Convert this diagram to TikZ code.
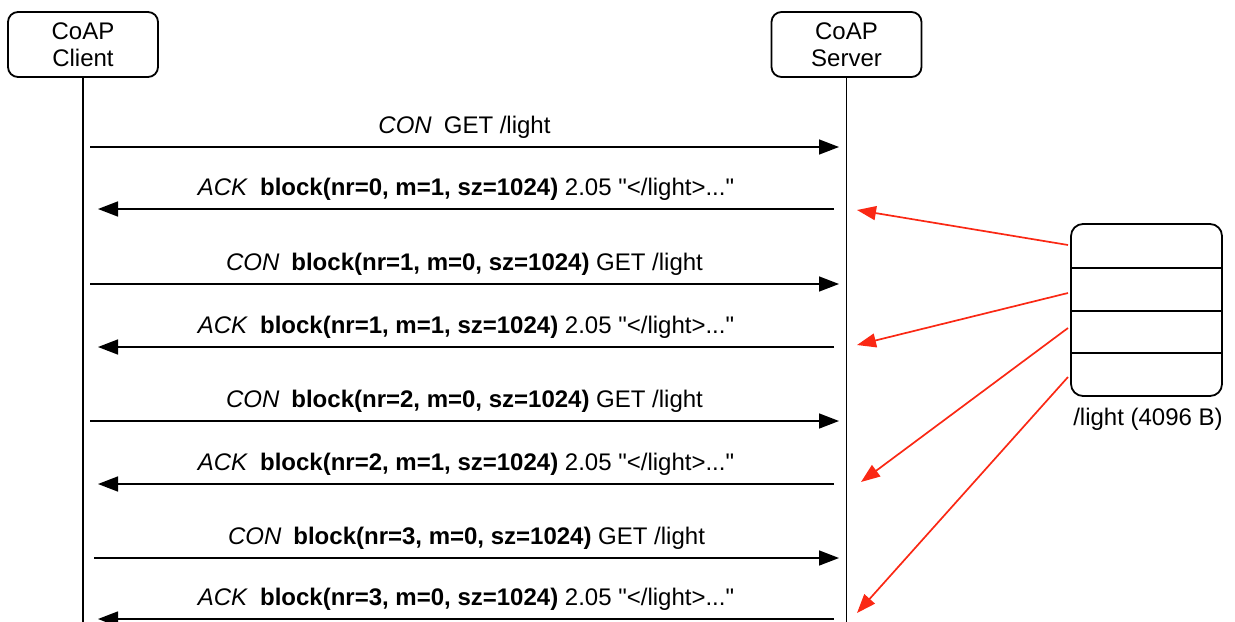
\documentclass[tikz,border=0pt]{standalone}
\usepackage{fontspec}
\setmainfont{Liberation Sans}
\usetikzlibrary{arrows.meta}
\definecolor{blockred}{RGB}{250,40,20}
\newcommand{\qd}{\textquotedbl}
\newcommand{\gapsp}{\hspace{6pt}}
\tikzset{
  actor/.style={draw, rounded corners=5pt, line width=0.9pt, minimum width=75pt,
    minimum height=32.5pt, align=center, font=\fontsize{12}{13.5}\selectfont},
  store/.style={draw, rounded corners=6pt, line width=0.9pt, minimum width=75.5pt,
    minimum height=86pt},
  life/.style={line width=0.9pt},
  msg/.style={line width=0.75pt, -{Triangle[length=10pt,width=7.5pt]}},
  fetch/.style={blockred, line width=0.85pt, -{Triangle[length=9.5pt,width=7pt]}},
  lbl/.style={midway, anchor=base, yshift=6.75pt, font=\fontsize{12}{14}\selectfont},
  caption/.style={font=\fontsize{12}{14}\selectfont}
}
\begin{document}
\begin{tikzpicture}[x=0.5pt,y=-0.5pt]
    \useasboundingbox (0,0) rectangle (1235,621);

    % endpoints and lifelines
    \node[actor] (client) at (83,44.5) {CoAP\\Client};
    \node[actor] (server) at (846.5,44.5) {CoAP\\Server};
    \coordinate (cend) at (83,630);
    \coordinate (send) at (846.5,630);
    \draw[life] (client) -- (cend);
    \draw[life] (server) -- (send);

    % messages
    \coordinate (c1) at (90,147);  \coordinate (s1) at (839,147);
    \coordinate (s2) at (834,209); \coordinate (c2) at (98,209);
    \coordinate (c3) at (90,284);  \coordinate (s3) at (839,284);
    \coordinate (s4) at (834,347); \coordinate (c4) at (98,347);
    \coordinate (c5) at (90,421);  \coordinate (s5) at (839,421);
    \coordinate (s6) at (834,484); \coordinate (c6) at (98,484);
    \coordinate (c7) at (94,558);  \coordinate (s7) at (839,558);
    \coordinate (s8) at (834,619); \coordinate (c8) at (98,619);

    \draw[msg] (c1) -- (s1) node[lbl] {\textit{CON}\gapsp GET /light};
    \draw[msg] (s2) -- (c2) node[lbl] {\textit{ACK}\gapsp\textbf{block(nr=0, m=1, sz=1024)} 2.05 \qd</light>...\qd};
    \draw[msg] (c3) -- (s3) node[lbl] {\textit{CON}\gapsp\textbf{block(nr=1, m=0, sz=1024)} GET /light};
    \draw[msg] (s4) -- (c4) node[lbl] {\textit{ACK}\gapsp\textbf{block(nr=1, m=1, sz=1024)} 2.05 \qd</light>...\qd};
    \draw[msg] (c5) -- (s5) node[lbl] {\textit{CON}\gapsp\textbf{block(nr=2, m=0, sz=1024)} GET /light};
    \draw[msg] (s6) -- (c6) node[lbl] {\textit{ACK}\gapsp\textbf{block(nr=2, m=1, sz=1024)} 2.05 \qd</light>...\qd};
    \draw[msg] (c7) -- (s7) node[lbl] {\textit{CON}\gapsp\textbf{block(nr=3, m=0, sz=1024)} GET /light};
    \draw[msg] (s8) -- (c8) node[lbl] {\textit{ACK}\gapsp\textbf{block(nr=3, m=0, sz=1024)} 2.05 \qd</light>...\qd};

    % the resource, cut into four blocks
    \node[store] (light) at (1146.5,310) {};
    \draw[life] (1071,268) -- (1223,268);
    \draw[life] (1071,311) -- (1223,311);
    \draw[life] (1071,353) -- (1223,353);
    \node[caption] (size) at (1148,419) {/light (4096 B)};

    \coordinate (b0) at (1068,245); \coordinate (r0) at (857,210);
    \coordinate (b1) at (1068,293); \coordinate (r1) at (857,345);
    \coordinate (b2) at (1068,328); \coordinate (r2) at (861,482);
    \coordinate (b3) at (1068,377); \coordinate (r3) at (857,613);
    \draw[fetch] (b0) -- (r0);
    \draw[fetch] (b1) -- (r1);
    \draw[fetch] (b2) -- (r2);
    \draw[fetch] (b3) -- (r3);
\end{tikzpicture}
\end{document}
